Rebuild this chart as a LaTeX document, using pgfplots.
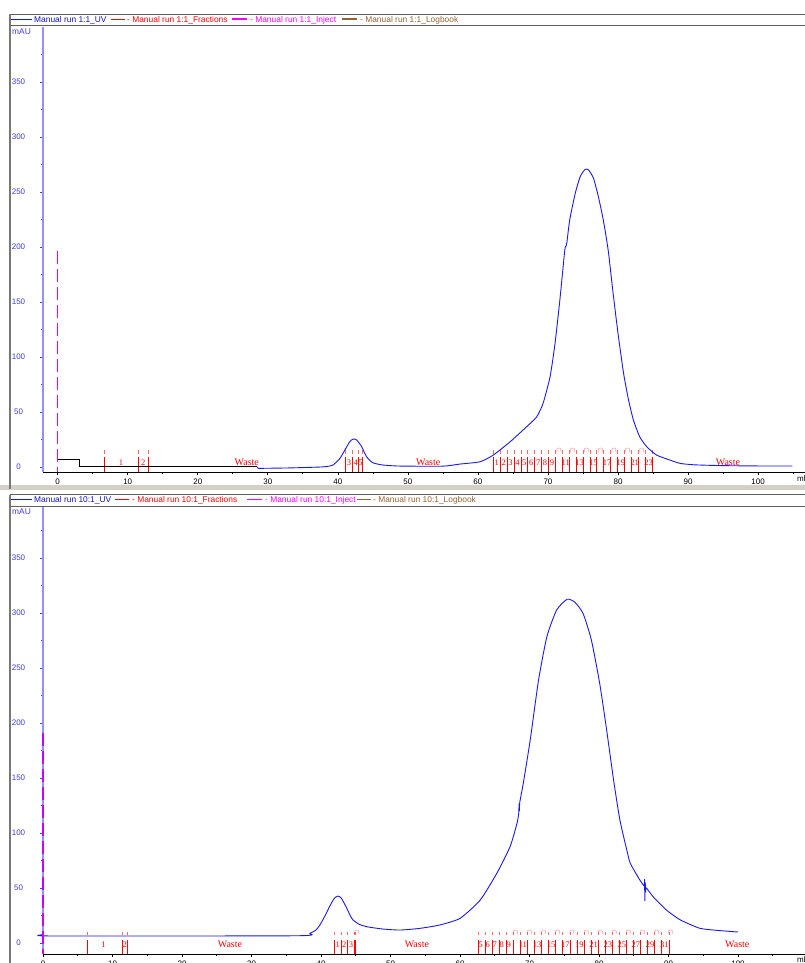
\documentclass[border=0pt]{standalone}
\usepackage{fontspec}
\setmainfont{Liberation Sans}
\newfontfamily\serifF{Liberation Serif}
\usepackage{pgfplots}
\pgfplotsset{compat=1.18}

\definecolor{uvblue}{RGB}{25,25,235}
\definecolor{axblue}{RGB}{145,145,255}
\definecolor{tickblue}{RGB}{60,60,240}
\definecolor{injmag}{RGB}{255,0,255}
\definecolor{injpurple}{RGB}{230,0,240}
\definecolor{logbrown}{RGB}{150,100,50}
\definecolor{fracred}{RGB}{255,0,0}
\definecolor{framegray}{RGB}{120,120,120}
\definecolor{bandgray}{RGB}{212,208,200}

\pgfplotsset{
  chrom/.style={
    scale only axis, width=762pt, clip=false,
    axis x line*=bottom, axis y line*=left,
    axis line style={-},
    x axis line style={black, line width=0.8pt},
    y axis line style={axblue, line width=2.4pt},
    xtick={0,10,...,100}, minor xtick={5,15,...,105},
    ytick={0,50,...,350}, minor ytick={25,75,...,375},
    tick align=outside, major tick length=3pt, minor tick length=2pt,
    x tick style={black, line width=0.7pt},
    y tick style={tickblue, line width=0.8pt},
    tick label style={font=\fontsize{8}{9}\selectfont},
    /pgf/number format/assume math mode=true,
    yticklabel style={anchor=center, xshift=-21.5pt, text=tickblue},
    xticklabel style={text=black},
  },
}
\tikzset{
  fn/.style={font=\serifF\fontsize{8.5}{9}\selectfont, text=fracred, inner sep=0pt},
  ws/.style={font=\serifF\fontsize{10}{11}\selectfont, text=fracred, inner sep=0pt},
  cp/.style={font=\fontsize{7}{8}\selectfont, text=fracred!75, inner sep=0pt},
  uvline/.style={draw=uvblue, line width=0.9pt, smooth, tension=0.35},
  lgt/.style={anchor=west, inner sep=0pt, font=\legfont},
}
\newcommand{\legfont}{\fontsize{8.4}{9}\selectfont}
% legend sample: a coloured rule set as text
\newcommand{\sample}[2]{\textcolor{#1}{\rule[2.4pt]{#2}{1.3pt}}}

\begin{document}
\begin{tikzpicture}
\path[use as bounding box, fill=white] (0pt,0pt) rectangle (805pt,-963pt);

% frames
\fill[bandgray] (0pt,-485pt) rectangle (805pt,-490pt);
\fill[framegray!80!black] (10pt,-13.6pt) rectangle (805pt,-14.4pt);
\fill[framegray!80!black] (10pt,-25.1pt) rectangle (805pt,-25.9pt);
\fill[framegray] (8.7pt,-14pt) rectangle (11.3pt,-489pt);
\fill[framegray!80!black] (10pt,-494.1pt) rectangle (805pt,-494.9pt);
\fill[framegray!80!black] (10pt,-506.1pt) rectangle (805pt,-506.9pt);
\fill[framegray] (8.7pt,-494.5pt) rectangle (11.3pt,-963pt);

% ---------------- top run 1:1 ----------------
\begin{axis}[chrom, at={(43pt,-472pt)}, anchor=south west, height=445pt,
  xmin=-2.1, xmax=106.7, ymin=-4.5, ymax=400]
\addplot[color=injpurple, line width=1.5pt, dash pattern=on 13pt off 5pt] coordinates {(0,196) (0,-4.5)};
\pgfplotsinvokeforeach{6.6,11.5,12.9,41.1,42.1,43.0,43.5,
  62.20,63.19,64.17,65.16,66.14,67.13,68.11,69.10,70.08,71.07,72.05,73.04,
  74.02,75.01,75.99,76.98,77.96,78.95,79.93,80.92,81.90,82.89,83.87,84.86}{
  \addplot[draw=fracred, line width=0.8pt] coordinates {(#1,-4.5) (#1,9.4)};
  \addplot[draw=fracred!60, line width=0.8pt] coordinates {(#1,11.8) (#1,15.5)};
}
\addplot[uvline] coordinates {
(28.6,-1.2)(33,-0.8)(37.4,0)(38.5,0.6)(39.3,1.8)(40.3,7.9)(41,15.5)
(41.7,23)(42.2,25.5)(42.7,24.5)(43.4,18.5)(44.1,9.4)(45.0,3.9)(46.5,1.8)
(48.9,0.9)(55,0.8)(57.4,2.7)(60.3,4.8)(62.2,10.9)(64.6,23)(66.96,36.7)
(68.4,45.7)(69.3,57.9)(70.3,82)(71.0,112)(71.7,152)(72.4,197)(72.6,201)
(72.7,204)(73.1,224.5)(73.9,249)(74.6,264)(75.3,270.6)(75.8,270)(76.5,262.5)
(77.2,245.7)(77.9,224.5)(78.6,197)(79.3,158)(80.0,121.5)(80.8,85)(81.5,61)
(82.2,42.7)(83.1,27.5)(84.1,18.5)(85.5,10.9)(87.4,6.4)(88.9,3.3)(91,2)
(95,1.3)(100,1)(104.9,1)};
\addplot[draw=uvblue, line width=0.9pt] coordinates {(28.5,0.3)(28.6,-1.2)};
\addplot[draw=black, line width=0.9pt] coordinates {(0,7.3)(3.1,7.3)(3.1,0.3)(28.5,0.3)};
% fraction labels
\node[fn] at (axis cs:9.05,4.2) {1};
\node[fn] at (axis cs:12.2,4.2) {2};
\node[ws] at (axis cs:27,4.2) {Waste};
\node[fn] at (axis cs:41.6,4.2) {3};
\node[fn] at (axis cs:42.55,4.2) {4};
\node[fn] at (axis cs:43.25,4.2) {5};
\node[ws] at (axis cs:52.9,4.2) {Waste};
\node[fn] at (axis cs:62.69,4.2) {1};
\node[fn] at (axis cs:63.68,4.2) {2};
\node[fn] at (axis cs:64.66,4.2) {3};
\node[fn] at (axis cs:65.65,4.2) {4};
\node[fn] at (axis cs:66.63,4.2) {5};
\node[fn] at (axis cs:67.62,4.2) {6};
\node[fn] at (axis cs:68.60,4.2) {7};
\node[fn] at (axis cs:69.59,4.2) {8};
\node[fn] at (axis cs:70.57,4.2) {9};
\node[fn] at (axis cs:72.54,4.2) {11};
\node[fn] at (axis cs:74.51,4.2) {13};
\node[fn] at (axis cs:76.48,4.2) {15};
\node[fn] at (axis cs:78.45,4.2) {17};
\node[fn] at (axis cs:80.42,4.2) {19};
\node[fn] at (axis cs:82.39,4.2) {21};
\node[fn] at (axis cs:84.36,4.2) {23};
\node[ws] at (axis cs:95.7,4.2) {Waste};
\node[cp] at (axis cs:71.6,15) {$\cap$};
\node[cp] at (axis cs:73.55,15) {$\cap$};
\node[cp] at (axis cs:75.5,15) {$\cap$};
\node[cp] at (axis cs:77.5,15) {$\cap$};
\node[cp] at (axis cs:79.45,15) {$\cap$};
\node[cp] at (axis cs:81.4,15) {$\cap$};
\node[cp] at (axis cs:83.4,15) {$\cap$};
\end{axis}

% ---------------- bottom run 10:1 ----------------
\begin{axis}[chrom, at={(43pt,-954pt)}, anchor=south west, height=447pt,
  xmin=0, xmax=109.64, ymin=-10, ymax=396.4]
\pgfplotsinvokeforeach{6.4,11.4,12.1,41.9,42.9,43.8,44.8,45.0,
  62.60,63.62,64.63,65.65,66.67,67.69,68.70,69.72,70.74,71.75,72.77,73.79,
  74.80,75.82,76.84,77.86,78.87,79.89,80.91,81.92,82.94,83.96,84.97,85.99,
  87.01,88.03,89.04,90.06}{
  \addplot[draw=fracred, line width=0.8pt] coordinates {(#1,-10) (#1,2.7)};
  \addplot[draw=fracred!60, line width=0.8pt] coordinates {(#1,7.3) (#1,10.3)};
}
\addplot[uvline] coordinates {
(0,7.5)(1.2,6.4)(36.5,6.6)(38.4,8.8)(39.3,12)(39.9,17)(40.6,25)(41.3,34)
(41.9,40.5)(42.4,42.7)(42.9,41)(43.6,33)(44.2,25)(44.6,21)(45.5,17)(46.6,14.8)
(48.9,12.7)(51.4,11.8)(54.2,13.3)(57.1,16.4)(60.0,22.4)(62.9,39)(65.3,63.4)
(67.2,87.5)(68.2,108.8)(68.45,118)(68.5,127)(68.55,120)(68.6,128)(69.1,145)
(70.1,184.5)(71.3,239)(72.5,278.5)(73.9,302.7)(75.4,312.5)(76.5,310)
(77.7,299.7)(78.9,275.5)(80.1,236)(81.1,193.6)(82.1,148)(83.0,112)(84.0,84.5)
(84.5,72.5)(85.9,57)(86.5,52)(86.55,58)(86.6,38)(86.65,55)(86.7,46)(86.8,50)
(87.8,42)(89.7,30)(91.7,21)(94.5,13.4)(97,11.5)(100,10)};
\addplot[draw=injmag!80!blue, line width=1.2pt, dash pattern=on 13pt off 5pt] coordinates {(0,191) (0,-10)};
\node[fn] at (axis cs:8.7,-1.4) {1};
\node[fn] at (axis cs:11.75,-1.4) {2};
\node[ws] at (axis cs:26.9,-1.4) {Waste};
\node[fn] at (axis cs:42.4,-1.4) {1};
\node[fn] at (axis cs:43.35,-1.4) {2};
\node[fn] at (axis cs:44.3,-1.4) {3};
\node[ws] at (axis cs:53.8,-1.4) {Waste};
\node[fn] at (axis cs:63.0,-1.4) {5};
\node[fn] at (axis cs:64.0,-1.4) {6};
\node[fn] at (axis cs:65.0,-1.4) {7};
\node[fn] at (axis cs:66.0,-1.4) {8};
\node[fn] at (axis cs:67.0,-1.4) {9};
\node[fn] at (axis cs:69.05,-1.4) {11};
\node[fn] at (axis cs:71.09,-1.4) {13};
\node[fn] at (axis cs:73.12,-1.4) {15};
\node[fn] at (axis cs:75.15,-1.4) {17};
\node[fn] at (axis cs:77.19,-1.4) {19};
\node[fn] at (axis cs:79.22,-1.4) {21};
\node[fn] at (axis cs:81.26,-1.4) {23};
\node[fn] at (axis cs:83.29,-1.4) {25};
\node[fn] at (axis cs:85.32,-1.4) {27};
\node[fn] at (axis cs:87.36,-1.4) {29};
\node[fn] at (axis cs:89.39,-1.4) {31};
\node[ws] at (axis cs:99.9,-1.4) {Waste};
\node[cp] at (axis cs:45.2,9.5) {$\cap$};
\node[cp] at (axis cs:68.0,9.5) {$\cap$};
\node[cp] at (axis cs:70.02,9.5) {$\cap$};
\node[cp] at (axis cs:72.05,9.5) {$\cap$};
\node[cp] at (axis cs:74.09,9.5) {$\cap$};
\node[cp] at (axis cs:76.12,9.5) {$\cap$};
\node[cp] at (axis cs:78.16,9.5) {$\cap$};
\node[cp] at (axis cs:80.19,9.5) {$\cap$};
\node[cp] at (axis cs:82.22,9.5) {$\cap$};
\node[cp] at (axis cs:84.26,9.5) {$\cap$};
\node[cp] at (axis cs:86.29,9.5) {$\cap$};
\node[cp] at (axis cs:88.33,9.5) {$\cap$};
\node[cp] at (axis cs:90.3,9.5) {$\cap$};
\end{axis}

% legends
\node[lgt] at (11pt,-20pt) {\sample{uvblue}{21pt}\hspace{2pt}\textcolor{uvblue!80!black}{Manual run 1:1\_UV}};
\node[lgt] at (111pt,-20pt) {\sample{fracred}{14pt}\hspace{2pt}\textcolor{fracred}{- Manual run 1:1\_Fractions}};
\node[lgt] at (232pt,-20pt) {\sample{injmag}{15pt}\hspace{3pt}\textcolor{injmag}{- Manual run 1:1\_Inject}};
\node[lgt] at (342pt,-20pt) {\sample{logbrown}{15pt}\hspace{3pt}\textcolor{logbrown}{- Manual run 1:1\_Logbook}};

\node[lgt] at (11pt,-500.5pt) {\sample{uvblue}{21pt}\hspace{2pt}\textcolor{uvblue!80!black}{Manual run 10:1\_UV}};
\node[lgt] at (115pt,-500.5pt) {\sample{fracred}{14pt}\hspace{3pt}\textcolor{fracred}{- Manual run 10:1\_Fractions}};
\node[lgt] at (247pt,-500.5pt) {\sample{injmag}{15pt}\hspace{3pt}\textcolor{injmag}{- Manual run 10:1\_Inject}};
\node[lgt] at (357pt,-500.5pt) {\sample{logbrown}{14pt}\hspace{2pt}\textcolor{logbrown}{- Manual run 10:1\_Logbook}};

\node[lgt, text=tickblue] at (12pt,-31.5pt) {mAU};
\node[lgt, text=tickblue] at (12pt,-512pt) {mAU};
\node[anchor=west, inner sep=0pt, font=\fontsize{8}{9}\selectfont] at (797pt,-479pt) {ml};
\node[anchor=west, inner sep=0pt, font=\fontsize{8}{9}\selectfont] at (797pt,-960pt) {ml};
\end{tikzpicture}
\end{document}
